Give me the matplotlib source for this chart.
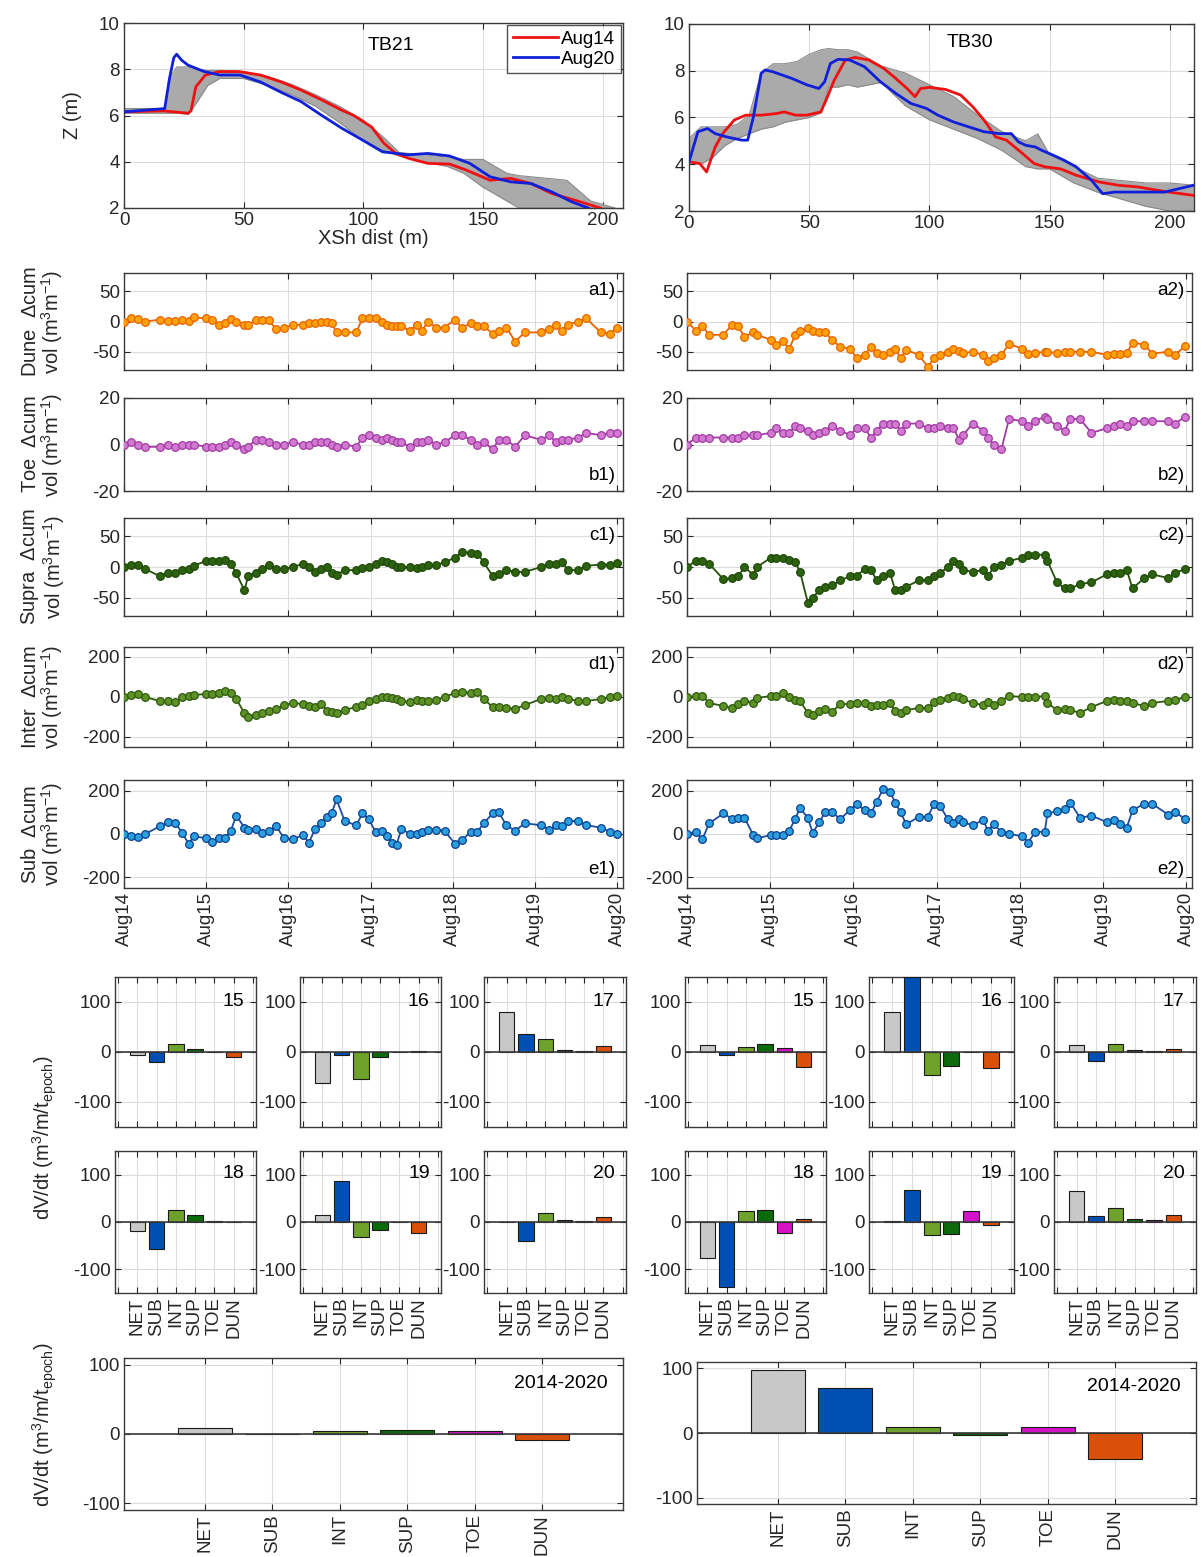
import matplotlib
matplotlib.use('Agg')
import matplotlib.pyplot as plt

plt.rcParams['font.family'] = ['Liberation Sans', 'DejaVu Sans']
plt.rcParams['mathtext.fontset'] = 'custom'
plt.rcParams['mathtext.rm'] = 'Liberation Sans'
plt.rcParams['mathtext.it'] = 'Liberation Sans:italic'
plt.rcParams['mathtext.bf'] = 'Liberation Sans:bold'
plt.rcParams['axes.unicode_minus'] = False

# ---------------- profile data ----------------
envL_x = [0, 17, 19, 22, 27, 30, 35, 40, 50, 60, 70, 80, 90, 100, 108, 115, 125, 135, 142, 150, 160, 165, 175, 185, 195, 205]
envL_lo = [6.1, 6.1, 6.1, 6.1, 6.05, 6.5, 7.3, 7.6, 7.6, 7.3, 6.9, 6.4, 5.7, 4.9, 4.5, 4.25, 4.0, 3.8, 3.5, 2.9, 2.3, 2.0, 2.0, 2.0, 2.0, 2.0]
envL_hi = [6.3, 6.3, 7.6, 8.1, 8.1, 8.0, 7.95, 7.95, 7.9, 7.7, 7.35, 6.9, 6.4, 5.8, 5.1, 4.4, 4.3, 4.2, 4.1, 4.1, 3.5, 3.4, 3.3, 3.2, 2.3, 2.0]
redL_x = [0, 16.4, 26.7, 28, 30, 34, 40, 48, 57, 65.7, 74, 82.7, 91, 96, 103.5, 108.6, 113.6, 118.8, 127, 136, 143, 153, 161.6, 170, 178.7, 190.6, 199]
redL_z = [6.16, 6.2, 6.1, 6.2, 7.24, 7.75, 7.9, 7.9, 7.75, 7.45, 7.1, 6.67, 6.23, 6.0, 5.5, 4.8, 4.36, 4.15, 3.93, 3.9, 3.64, 3.2, 3.28, 3.06, 2.63, 2.27, 2.0]
blueL_x = [0, 17, 19, 20.8, 22, 24, 26.7, 33.5, 40, 48.5, 57, 65.7, 74, 82.7, 91, 99.6, 108, 118.8, 127, 136, 144.5, 153, 161.6, 170, 178.7, 187, 194]
blueL_z = [6.16, 6.3, 7.6, 8.5, 8.65, 8.4, 8.18, 7.9, 7.75, 7.75, 7.45, 7.0, 6.6, 6.0, 5.45, 4.94, 4.43, 4.3, 4.36, 4.25, 3.93, 3.35, 3.13, 3.06, 2.7, 2.27, 2.0]

envR_x = [0, 5, 10, 15, 20, 25, 30, 35, 40, 45, 50, 55, 58, 62, 66, 70, 75, 80, 90, 100, 110, 120, 130, 140, 145, 150, 160, 170, 180, 190, 200, 210]
envR_lo = [4.1, 4.0, 4.3, 4.8, 5.1, 5.3, 5.5, 5.6, 5.8, 5.9, 6.0, 6.2, 7.3, 7.3, 7.4, 7.3, 7.4, 7.5, 6.5, 5.9, 5.5, 5.1, 4.6, 3.9, 3.8, 3.8, 3.2, 2.8, 2.5, 2.2, 2.0, 2.0]
envR_hi = [5.1, 5.6, 5.6, 5.6, 5.7, 6.1, 7.9, 8.3, 8.3, 8.4, 8.7, 8.9, 8.95, 8.9, 8.9, 8.8, 8.5, 8.2, 7.9, 7.4, 6.9, 6.1, 5.4, 5.0, 5.3, 4.4, 3.9, 3.4, 3.3, 3.2, 3.2, 3.1]
redR_x = [0, 4.5, 7.3, 10.9, 14, 18.8, 23.6, 30, 36.4, 39.6, 44.4, 49, 54.8, 57, 60.4, 65, 69, 74.8, 81, 86, 90.7, 94, 96.3, 100, 106.7, 113, 118, 122.7, 127.5, 132, 138.7, 143.5, 148, 154.6, 161, 170.6, 178.6, 186.6, 194.6, 199.4, 209.7]
redR_z = [4.1, 4.03, 3.67, 4.74, 5.31, 5.89, 6.1, 6.1, 6.17, 6.24, 6.1, 6.1, 6.24, 6.74, 7.6, 8.46, 8.57, 8.46, 8.1, 7.67, 7.24, 6.89, 7.24, 7.29, 7.2, 6.96, 6.46, 5.89, 5.17, 5.03, 4.46, 4.03, 3.89, 3.8, 3.53, 3.24, 3.1, 3.03, 2.89, 2.81, 2.67]
blueR_x = [0, 3.7, 7.7, 10.9, 15.7, 22, 24.4, 26.8, 30, 31.6, 34.8, 42.8, 49.2, 54, 56.4, 58.8, 62, 66.8, 73, 79.6, 86, 92.3, 98.7, 103.5, 110, 116.3, 122.7, 129, 134, 137, 140, 144, 146.6, 151.4, 156, 161, 167.4, 172, 177, 186.6, 193, 197.8, 201, 204, 209.7]
blueR_z = [4.1, 5.39, 5.53, 5.31, 5.17, 5.03, 5.03, 6.03, 7.89, 8.03, 7.96, 7.67, 7.39, 7.24, 7.53, 8.31, 8.49, 8.46, 8.17, 7.53, 7.03, 6.6, 6.39, 6.1, 5.81, 5.6, 5.39, 5.31, 5.31, 4.96, 4.81, 4.74, 4.6, 4.39, 4.17, 3.89, 3.31, 2.74, 2.81, 2.81, 2.81, 2.81, 2.89, 2.96, 3.1]

# ---------------- time series data ----------------
day_ticks = [14, 15, 16, 17, 18, 19, 20]
day_labels = ['Aug14', 'Aug15', 'Aug16', 'Aug17', 'Aug18', 'Aug19', 'Aug20']

tL = [14.00, 14.085, 14.165, 14.255, 14.435, 14.535, 14.625, 14.71, 14.785, 14.85,
      15.00, 15.075, 15.15, 15.225, 15.30, 15.365, 15.465, 15.51, 15.60, 15.675,
      15.76, 15.85, 15.95, 16.05, 16.175, 16.25, 16.325, 16.40, 16.475, 16.525,
      16.585, 16.685, 16.825, 16.90, 16.975, 17.06, 17.135, 17.20, 17.26, 17.315,
      17.375, 17.475, 17.565, 17.625, 17.70, 17.80, 17.90, 18.025, 18.11, 18.215,
      18.30, 18.375, 18.485, 18.56, 18.65, 18.76, 18.875, 19.075, 19.175, 19.25,
      19.325, 19.40, 19.525, 19.625, 19.80, 19.91, 20.00]
duneL = [0, 6, 4, 0, 3, 1, 1, 2, 1, 7,
         5, 2, -5, -3, 4, 0, -5, -5, 2, 2,
         2, -12, -10, -6, -5, -2, -3, -1, 0, -3,
         -18, -18, -18, 5, 5, 5, 0, -5, -8, -8,
         -8, -15, -5, -15, 0, -10, -10, 3, -10, -3,
         -8, -8, -20, -15, -10, -33, -18, -18, -12, -5,
         -15, -5, 0, 5, -18, -20, -10]
toeL = [0, 1, 0, -1, -1, 0, -1, 0, 0, 0,
        -1, -1, -1, 0, 1, 0, -2, -1, 2, 2,
        1, 0, 0, 1, 0, 0, 1, 1, 1, 0,
        -1, 0, -1, 3, 4, 3, 2, 3, 2, 1,
        1, -1, 1, 1, 2, 0, 1, 4, 4, 2,
        0, 1, -2, 2, 2, -1, 4, 2, 4, 1,
        2, 2, 3, 5, 4, 5, 5]
supraL = [0, 3, 3, -3, -15, -10, -10, -5, -3, 2,
          10, 10, 10, 12, 5, -10, -38, -15, -10, -3,
          3, -3, -3, 0, 5, 0, -8, -3, 0, -10,
          -13, -5, -5, -2, 0, 5, 10, 8, 5, 0,
          0, 0, -2, 0, 3, 3, 8, 15, 25, 23,
          22, 8, -15, -12, -5, -8, -8, 0, 5, 5,
          8, -5, -5, 2, 4, 4, 6]
interL = [0, 10, 15, 0, -20, -20, -25, 0, 5, 10,
          15, 15, 20, 30, 20, -10, -80, -100, -90, -80,
          -70, -60, -40, -30, -35, -45, -50, -35, -70, -75,
          -80, -65, -50, -40, -20, -10, 0, 0, -5, -10,
          -20, -25, -15, -20, -20, -15, 0, 20, 25, 20,
          25, -10, -50, -50, -55, -60, -40, -10, -5, -10,
          0, -10, -20, -20, -10, 0, 5]
subL = [0, -10, -15, 0, 35, 55, 50, 5, -45, -10,
        -20, -35, -20, -20, 15, 85, 30, 20, 25, 5,
        15, 35, -20, -25, -5, -40, 25, 50, 80, 95,
        160, 60, 40, 95, 70, 10, 15, -10, -40, -50,
        25, 0, 0, 10, 20, 20, 15, -45, -30, 10,
        10, 50, 95, 100, 40, 15, 50, 40, 20, 40,
        35, 60, 60, 40, 30, 10, 0]

tR = [14.00, 14.106, 14.184, 14.267, 14.438, 14.544, 14.613, 14.691, 14.797, 14.843,
      15.005, 15.074, 15.152, 15.23, 15.30, 15.359, 15.452, 15.512, 15.59, 15.659,
      15.742, 15.843, 15.959, 16.041, 16.134, 16.212, 16.281, 16.359, 16.442, 16.502,
      16.567, 16.636, 16.788, 16.894, 16.972, 17.041, 17.134, 17.203, 17.272, 17.318,
      17.433, 17.558, 17.618, 17.687, 17.779, 17.871, 18.032, 18.101, 18.184, 18.30,
      18.332, 18.447, 18.539, 18.608, 18.724, 18.862, 19.046, 19.129, 19.207, 19.286,
      19.355, 19.498, 19.59, 19.783, 19.866, 19.991]
duneR = [0, -15, -8, -22, -22, -5, -8, -25, -18, -22,
         -30, -38, -32, -45, -22, -15, -10, -15, -18, -18,
         -30, -42, -45, -60, -55, -42, -52, -55, -50, -45,
         -60, -47, -55, -75, -60, -55, -50, -45, -48, -52,
         -50, -55, -65, -60, -55, -37, -45, -53, -52, -50,
         -50, -52, -50, -50, -50, -50, -55, -53, -53, -52,
         -35, -38, -53, -50, -55, -40]
toeR = [0, 3, 3, 3, 3, 3, 3, 4, 4, 4,
        5, 7, 5, 5, 8, 7, 6, 4, 5, 6,
        8, 6, 4, 7, 7, 3, 6, 9, 9, 9,
        6, 9, 9, 7, 7, 8, 7, 7, 2, 4,
        9, 6, 3, 0, -2, 11, 10, 8, 10, 12,
        11, 8, 6, 11, 11, 5, 7, 8, 9, 8,
        10, 10, 10, 10, 9, 12]
supraR = [0, 10, 10, 5, -20, -18, -15, 0, -13, 0,
          15, 15, 15, 12, 8, -8, -58, -50, -38, -33,
          -30, -22, -15, -15, -3, -5, -22, -15, -10, -38,
          -37, -32, -22, -22, -15, -10, 0, 10, 5, -5,
          -8, -5, -15, 0, 3, 10, 15, 20, 20, 20,
          10, -25, -35, -35, -28, -25, -12, -10, -10, -5,
          -35, -18, -12, -18, -10, -3]
interR = [0, 5, 5, -30, -45, -55, -35, -20, -30, -5,
          5, 5, 20, 0, -15, -20, -80, -90, -70, -60,
          -75, -35, -35, -30, -30, -45, -40, -40, -30, -70,
          -80, -65, -55, -55, -25, -15, -5, 5, 0, -10,
          -30, -40, -25, -40, -20, 5, 0, 0, 0, 5,
          -30, -65, -60, -65, -80, -50, -20, -15, -20, -20,
          -30, -45, -30, -20, -15, 0]
subR = [0, 10, -25, 50, 95, 70, 75, 75, -5, -20,
        -5, -5, -5, 15, 70, 120, 75, 5, 55, 100,
        100, 70, 110, 140, 110, 95, 150, 210, 195, 145,
        100, 45, 80, 80, 140, 130, 70, 50, 70, 55,
        40, 65, 15, 45, 10, 0, -10, -40, 10, 10,
        95, 105, 115, 145, 75, 85, 55, 65, 45, 30,
        110, 140, 140, 90, 100, 70]

# ---------------- bar data ----------------
cats = ['NET', 'SUB', 'INT', 'SUP', 'TOE', 'DUN']
cat_colors = ['#c8c8c8', '#0050b4', '#6ea22a', '#0b6b0b', '#d412c8', '#d9500a']
epochs = ['15', '16', '17', '18', '19', '20']
barsL = {
    '15': [-5, -20, 17, 7, 0, -10],
    '16': [-62, -5, -53, -10, 0, 2],
    '17': [80, 36, 26, 4, 2, 12],
    '18': [-18, -57, 25, 15, 2, 0],
    '19': [15, 87, -32, -16, 0, -23],
    '20': [0, -40, 20, 5, 2, 10],
}
barsR = {
    '15': [15, -5, 10, 17, 8, -30],
    '16': [80, 150, -45, -27, 0, -32],
    '17': [15, -18, 17, 5, 3, 7],
    '18': [-77, -138, 23, 25, -23, 7],
    '19': [2, 68, -28, -25, 23, -7],
    '20': [65, 13, 30, 7, 5, 15],
}
totalL = [9, 0, 5, 6, 5, -8]
totalR = [98, 70, 9, -3, 10, -40]

# ---------------- figure ----------------
W, H = 1202, 1557
fig = plt.figure(figsize=(W / 100, H / 100), dpi=100)
TXT = '#262626'
FS = 13.5


def px_axes(x0, y0, x1, y1):
    return fig.add_axes([x0 / W, 1 - y1 / H, (x1 - x0) / W, (y1 - y0) / H])


def style(ax, fs=FS):
    for s in ax.spines.values():
        s.set_color('#3a3a3a')
        s.set_linewidth(1.0)
    ax.tick_params(direction='in', top=True, right=True, labelsize=fs,
                   colors=TXT, length=4, width=0.8, pad=3)
    ax.grid(True, color='#dcdcdc', linewidth=0.8)
    ax.set_axisbelow(True)


# profiles
def profile(ax, ex, elo, ehi, rx, rz, bx, bz, xmax, name, nx, ny):
    ax.fill_between(ex, elo, ehi, color='#aaaaaa', lw=0, zorder=2)
    ax.plot(ex, elo, color='#8a8a8a', lw=0.8, zorder=2)
    ax.plot(ex, ehi, color='#8a8a8a', lw=0.8, zorder=2)
    ax.plot(rx, rz, color='#ee1111', lw=2, zorder=4, label='Aug14')
    ax.plot(bx, bz, color='#1020d8', lw=2, zorder=5, label='Aug20')
    ax.set_xlim(0, xmax)
    ax.set_ylim(2, 10)
    ax.set_xticks([0, 50, 100, 150, 200])
    ax.set_yticks([2, 4, 6, 8, 10])
    style(ax)
    ax.text(nx, ny, name, transform=ax.transAxes, ha='center', va='center',
            fontsize=14, color='black')


axP1 = px_axes(124, 23, 623, 208)
profile(axP1, envL_x, envL_lo, envL_hi, redL_x, redL_z, blueL_x, blueL_z, 208.5, 'TB21', 0.535, 0.88)
axP1.set_ylabel('Z (m)', fontsize=14.5, color=TXT, labelpad=12)
axP1.set_xlabel('XSh dist (m)', fontsize=14.5, color=TXT, labelpad=0)
leg = axP1.legend(loc='upper right', fontsize=13.5, frameon=True, fancybox=False,
                  handlelength=2.4, borderaxespad=0.1, borderpad=0.3,
                  labelspacing=0.15, handletextpad=0.2)
leg.get_frame().set_edgecolor('#262626')
leg.get_frame().set_linewidth(1.0)

axP2 = px_axes(689, 24, 1194, 211)
profile(axP2, envR_x, envR_lo, envR_hi, redR_x, redR_z, blueR_x, blueR_z, 210, 'TB30', 0.556, 0.9)

# time series
ts_rows = [
    ('Dune', (273, 370), (-80, 80), [-50, 0, 50], '#ffa10a', '#e86400', '#e86400', 'a', 'top'),
    ('Toe', (398, 491), (-20, 20), [-20, 0, 20], '#d27ad2', '#a23aa2', '#a23aa2', 'b', 'bottom'),
    ('Supra', (518, 616), (-80, 80), [-50, 0, 50], '#2c6210', '#1f4a08', '#23500c', 'c', 'top'),
    ('Inter', (647, 747), (-250, 250), [-200, 0, 200], '#5e9226', '#2e5a0e', '#2e5a0e', 'd', 'top'),
    ('Sub', (780, 888), (-250, 250), [-200, 0, 200], '#2aa0e0', '#0c3e8c', '#1e4e9e', 'e', 'bottom'),
]
seriesL = [duneL, toeL, supraL, interL, subL]
seriesR = [duneR, toeR, supraR, interR, subR]

for i, (name, (y0, y1), yl, yt, fc, ec, lc, letter, pos) in enumerate(ts_rows):
    for side, (x0, x1), tt, vals in [('1', (124, 623), tL, seriesL[i]), ('2', (687, 1192), tR, seriesR[i])]:
        ax = px_axes(x0, y0, x1, y1)
        ax.plot(tt, vals, '-o', color=lc, lw=1.3, ms=5.5, mfc=fc, mec=ec, mew=0.9, zorder=3)
        ax.set_xlim(14, 20.07)
        ax.set_ylim(*yl)
        ax.set_yticks(yt)
        ax.set_xticks(day_ticks)
        style(ax)
        if letter == 'e':
            ax.set_xticklabels(day_labels, rotation=90, fontsize=FS)
        else:
            ax.set_xticklabels([])
        yy = 0.82 if pos == 'top' else 0.17
        ax.text(0.985, yy, letter + side + ')', transform=ax.transAxes, ha='right',
                va='center', fontsize=13.5, color='black')
    fig.text(43 / W, 1 - (y0 + y1) / 2 / H,
             name + '  $\\Delta$cum\nvol (m$^3$m$^{-1}$)', rotation=90,
             ha='center', va='center', fontsize=14.5, color=TXT,
             multialignment='center', linespacing=1.0)

# epoch bar panels
cols_x = [(115, 256), (300, 441), (484, 626), (685, 826), (869, 1014), (1054, 1196)]
rows_y = [(977, 1127), (1151, 1293)]
pos6 = [1, 2, 3, 4, 5, 6]
for gi, bars in enumerate([barsL, barsR]):
    for k, ep in enumerate(epochs):
        r = k // 3
        c = gi * 3 + k % 3
        (x0, x1), (y0, y1) = cols_x[c], rows_y[r]
        ax = px_axes(x0, y0, x1, y1)
        ax.bar(pos6, bars[ep], width=0.8, color=cat_colors, edgecolor='#1a1a1a',
               linewidth=0.8, zorder=3)
        ax.axhline(0, color='#3a3a3a', lw=1.2, zorder=4)
        ax.set_xlim(-0.17, 7.17)
        ax.set_ylim(-150, 150)
        ax.set_yticks([-100, 0, 100])
        ax.set_xticks([0] + pos6 + [7])
        style(ax)
        if r == 1:
            ax.set_xticklabels([''] + cats + [''], rotation=90, fontsize=FS)
        else:
            ax.set_xticklabels([])
        ax.text(0.92, 0.84, ep, transform=ax.transAxes, ha='right', va='center',
                fontsize=14, color='black')

fig.text(45 / W, 1 - 1138 / H, 'dV/dt (m$^3$/m/t$_{\\mathrm{epoch}}$)', rotation=90,
         ha='center', va='center', fontsize=14.5, color=TXT)

# overall bars
for (x0, x1), (y0, y1), vals in [((124, 623), (1358, 1510), totalL), ((697, 1196), (1362, 1504), totalR)]:
    ax = px_axes(x0, y0, x1, y1)
    ax.bar(pos6, vals, width=0.8, color=cat_colors, edgecolor='#1a1a1a', linewidth=0.8, zorder=3)
    ax.axhline(0, color='#3a3a3a', lw=1.2, zorder=4)
    ax.set_xlim(-0.2, 7.2)
    ax.set_ylim(-110, 110)
    ax.set_yticks([-100, 0, 100])
    ax.set_xticks(pos6)
    style(ax)
    ax.set_xticklabels(cats, rotation=90, fontsize=FS)
    ax.text(0.97, 0.83, '2014-2020', transform=ax.transAxes, ha='right', va='center',
            fontsize=14, color='black')

fig.text(45 / W, 1 - 1425 / H, 'dV/dt (m$^3$/m/t$_{\\mathrm{epoch}}$)', rotation=90,
         ha='center', va='center', fontsize=14.5, color=TXT)

fig.savefig('out.png', dpi=100, facecolor='white')
